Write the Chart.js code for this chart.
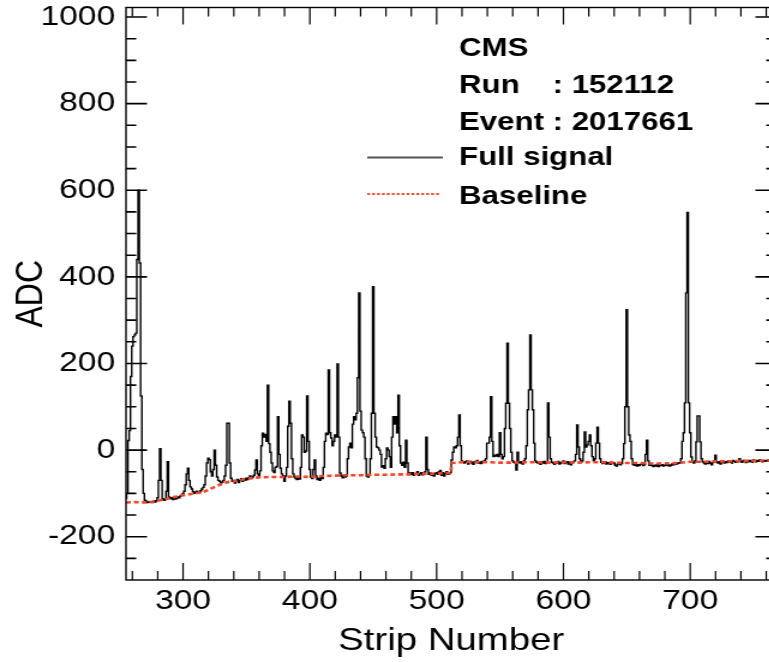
<!DOCTYPE html>
<html>
<head>
<meta charset="utf-8">
<script src="https://cdn.jsdelivr.net/npm/chart.js@4/dist/chart.umd.min.js"></script>
<style>
html,body{margin:0;padding:0;background:#fff;overflow:hidden;width:769px;height:662px;}
#wrap{position:absolute;left:0;top:0;width:650px;height:662px;transform:scaleX(1.2);transform-origin:0 0;}
canvas{display:block;}
</style>
</head>
<body>
<div id="wrap"><canvas id="c" width="650" height="662"></canvas></div>
<script>
// ---------------- data ----------------
const stripStart = 255;
const signalADC = [
  -112,-100,22,45,170,240,262,266,270,440,      // 255
  600,432,125,-45,-100,-116,-118,-121,-120,-120,// 265
  -119,-121,-118,-120,-117,-110,-70,3,-70,-112, // 275
  -116,-114,-95,-27,-108,-112,-110,-114,-111,-113, // 285
  -112,-108,-110,-106,-104,-100,-95,-80,-55,-42, // 295
  -70,-85,-90,-96,-100,-97,-95,-100,-98,-94,    // 305
  -90,-86,-80,-60,-30,-19,-22,-50,-60,-45,      // 315
  0,-35,-62,-70,-72,-76,-74,-70,-60,-35,        // 325
  62,62,-30,-65,-72,-70,-76,-72,-68,-75,        // 335
  -70,-66,-72,-68,-70,-65,-68,-64,-60,-66,      // 345
  -62,-58,-46,-23,-55,-62,-48,10,39,30,         // 355
  36,20,150,15,-5,-30,-48,-52,-40,-38,          // 365
  77,-10,-42,-55,-60,-72,-60,-40,55,113,        // 375
  62,-20,-55,-62,-66,-68,-64,-67,-40,35,        // 385
  30,-5,-2,125,20,-45,-62,-66,-45,-23,          // 395
  -60,-68,-65,-70,-64,-66,-40,20,39,36,         // 405
  185,40,28,10,20,35,30,199,30,-53,             // 415
  -60,-64,-58,-62,-60,-20,7,16,5,60,            // 425
  77,70,85,167,363,90,46,40,30,-20,             // 435
  -60,-62,-58,-20,85,377,85,30,7,5,             // 445
  0,-10,-39,-36,-42,-20,5,0,-15,-40,            // 455
  30,77,60,77,40,127,10,-30,-35,-28,            // 465
  -40,23,-30,-55,-53,-56,-52,-58,-54,-56,       // 475
  -50,-58,-55,-52,-57,-54,-50,30,-45,-56,       // 485
  -53,-58,-55,-60,-54,-52,-56,-50,-47,-58,      // 495
  -52,-60,-54,-50,-56,-55,-52,-23,-5,7,         // 505
  5,10,30,81,10,-25,-28,-30,-27,-25,            // 515
  -32,-28,-26,-30,-33,-27,-29,-24,-30,-28,      // 525
  -31,-26,-29,-24,-20,16,16,30,123,20,          // 535
  -15,-12,-14,-10,-15,40,-10,-20,-15,50,        // 545
  108,247,108,50,-5,-25,-28,-30,-46,-5,         // 555
  -28,-30,-27,-32,-25,-20,10,93,139,266,        // 565
  139,93,16,-25,-28,-30,-28,-33,-27,-30,        // 575
  -26,-31,-29,109,30,-20,-28,-30,-33,-28,       // 585
  -30,-26,-32,-30,-28,-25,-31,-29,-27,-32,      // 595
  -28,-34,-30,-27,-25,-10,58,7,-20,-28,         // 605
  -25,-5,42,7,12,20,35,10,-15,-25,              // 615
  -20,16,53,16,-20,-28,-31,-30,-27,-32,         // 625
  -29,-30,-33,-28,-31,-30,-35,-37,-32,-30,      // 635
  -34,-31,-20,15,100,324,100,35,20,-20,         // 645
  -33,-35,-32,-37,-34,-36,-33,-30,-36,-34,      // 655
  -10,23,-25,-35,-33,-36,-38,-35,-37,-33,       // 665
  -38,-35,-36,-34,-37,-35,-33,-36,-34,-37,      // 675
  -35,-32,-34,-30,-33,-31,-29,-30,-20,20,       // 685
  40,109,363,549,109,40,-16,-28,-30,-25,        // 695
  19,79,79,19,-20,-27,-30,-32,-28,-31,          // 705
  -26,-30,-34,-29,-25,-12,-28,-30,-27,-32,      // 715
  -28,-26,-30,-27,-29,-25,-28,-27,-30,-24,      // 725
  -26,-28,-25,-27,-20,-26,-28,-24,-26,-29,      // 735
  -25,-27,-24,-26,-28,-23,-25,-27,-24,-26,      // 745
  -23,-25,-27,-24,-26,-24,-25,-23,-26,-24,      // 755
  -25,-27,-24,-25                               // 765
];
const baselineStrips = [255,262,270,275,280,285,290,295,300,305,310,316,322,329,335,340,345,350,355,360,370,380,390,400,410,420,430,440,450,460,470,480,490,500,511,512,520,530,540,550,560,570,580,590,600,610,620,630,640,650,660,670,680,690,700,710,720,730,740,750,760,768];
const baselineADC = [-121,-120,-121,-120,-117,-114,-110,-107,-104,-102,-100,-97,-89,-80,-74,-72,-69,-67,-64,-63,-62,-62,-61,-62,-60,-59,-58,-58,-57,-57,-56,-56,-55,-54,-53,-30,-28,-27,-28,-29,-29,-28,-28,-29,-28,-29,-28,-28,-29,-30,-30,-31,-31,-30,-27,-27,-26,-26,-25,-25,-24,-24];
const xTickValues = [300,400,500,600,700];
const yTickValues = [-200,0,200,400,600,800,1000];
const infoLines = ['CMS', 'Run', 'Event : 2017661'];
const runNumber = ': 152112';
const legendLabels = ['Full signal', 'Baseline'];

// ---------------- build ----------------
const signalPts = signalADC.map((v,i)=>({x: stripStart + i, y: v}));
const basePts = baselineStrips.map((s,i)=>({x: s, y: baselineADC[i]}));

const FONT = "'Liberation Sans', Arial, Helvetica, sans-serif";

const frameTicks = {
  id: 'frameTicks',
  afterDraw(chart) {
    const {ctx, chartArea: a, scales: {x, y}} = chart;
    ctx.save();
    ctx.strokeStyle = '#000';
    ctx.lineWidth = 1.4;
    ctx.strokeRect(a.left, a.top, a.right - a.left, a.bottom - a.top);
    ctx.lineWidth = 1.2;
    ctx.beginPath();
    for (let v = 260; v <= 768; v += 20) {
      const px = x.getPixelForValue(v);
      const L = (v % 100 === 0) ? 17 : 9;
      ctx.moveTo(px, a.bottom); ctx.lineTo(px, a.bottom - L);
      ctx.moveTo(px, a.top); ctx.lineTo(px, a.top + L);
    }
    ctx.stroke();
    ctx.lineWidth = 1.6;
    ctx.beginPath();
    for (let v = -250; v <= 1000; v += 50) {
      const py = y.getPixelForValue(v);
      const L = (v % 200 === 0) ? 17.5 : 8.5;
      ctx.moveTo(a.left, py); ctx.lineTo(a.left + L, py);
      ctx.moveTo(a.right, py); ctx.lineTo(a.right - L, py);
    }
    ctx.stroke();

    // info text + legend
    ctx.fillStyle = '#000';
    ctx.font = "bold 26px " + FONT;
    ctx.textBaseline = 'alphabetic';
    const tx = 382.5;
    ctx.fillText(infoLines[0], tx, 56);
    ctx.fillText(infoLines[1], tx, 92.7);
    ctx.fillText(infoLines[2], tx, 130);
    const colonX = tx + ctx.measureText('Event ').width;
    ctx.fillText(runNumber, colonX, 92.7);
    ctx.fillText(legendLabels[0], tx, 165);
    ctx.fillText(legendLabels[1], tx, 204);
    ctx.strokeStyle = '#555';
    ctx.lineWidth = 1.8;
    ctx.beginPath(); ctx.moveTo(306, 157.5); ctx.lineTo(369, 157.5); ctx.stroke();
    ctx.strokeStyle = '#f2452a';
    ctx.lineWidth = 1.8;
    ctx.setLineDash([2.3, 1.8]);
    ctx.beginPath(); ctx.moveTo(306, 194); ctx.lineTo(367, 194); ctx.stroke();
    ctx.restore();
  }
};

new Chart(document.getElementById('c'), {
  type: 'line',
  data: {
    datasets: [
      { label: legendLabels[1], data: basePts, borderColor: '#f2452a', borderWidth: 2.6,
        borderDash: [4, 2.6], pointRadius: 0, tension: 0, fill: false },
      { label: legendLabels[0], data: signalPts, borderColor: '#000', borderWidth: 1.4,
        stepped: 'middle', pointRadius: 0, fill: false }
    ]
  },
  options: {
    responsive: false,
    animation: false,
    devicePixelRatio: 1,
    parsing: false,
    layout: { autoPadding: false, padding: { top: 7.5, right: 3, left: 0, bottom: 0 } },
    plugins: { legend: { display: false }, tooltip: { enabled: false } },
    scales: {
      x: {
        type: 'linear', min: 255, max: 768,
        afterBuildTicks: s => { s.ticks = xTickValues.map(v => ({ value: v })); },
        afterFit: s => { s.height = 82; s.paddingLeft = 0; s.paddingRight = 0; },
        grid: { display: false, drawTicks: false },
        border: { display: false },
        ticks: { color: '#000', font: { family: FONT, size: 28 }, padding: 4, maxRotation: 0, autoSkip: false,
                 callback: v => String(v) },
        title: { display: true, text: 'Strip Number', color: '#000', font: { family: FONT, size: 32 }, padding: { top: 0, bottom: 2 } }
      },
      y: {
        type: 'linear', min: -300, max: 1022,
        afterBuildTicks: s => { s.ticks = yTickValues.map(v => ({ value: v })); },
        afterFit: s => { s.width = 105; s.paddingTop = 0; s.paddingBottom = 0; },
        grid: { display: false, drawTicks: false },
        border: { display: false },
        ticks: { color: '#000', font: { family: FONT, size: 28 }, padding: 9, autoSkip: false,
                 callback: v => String(v) },
        title: { display: true, text: 'ADC', color: '#000', font: { family: FONT, size: 32 }, padding: { top: 7, bottom: 0 } }
      }
    }
  },
  plugins: [frameTicks]
});
</script>
</body>
</html>
